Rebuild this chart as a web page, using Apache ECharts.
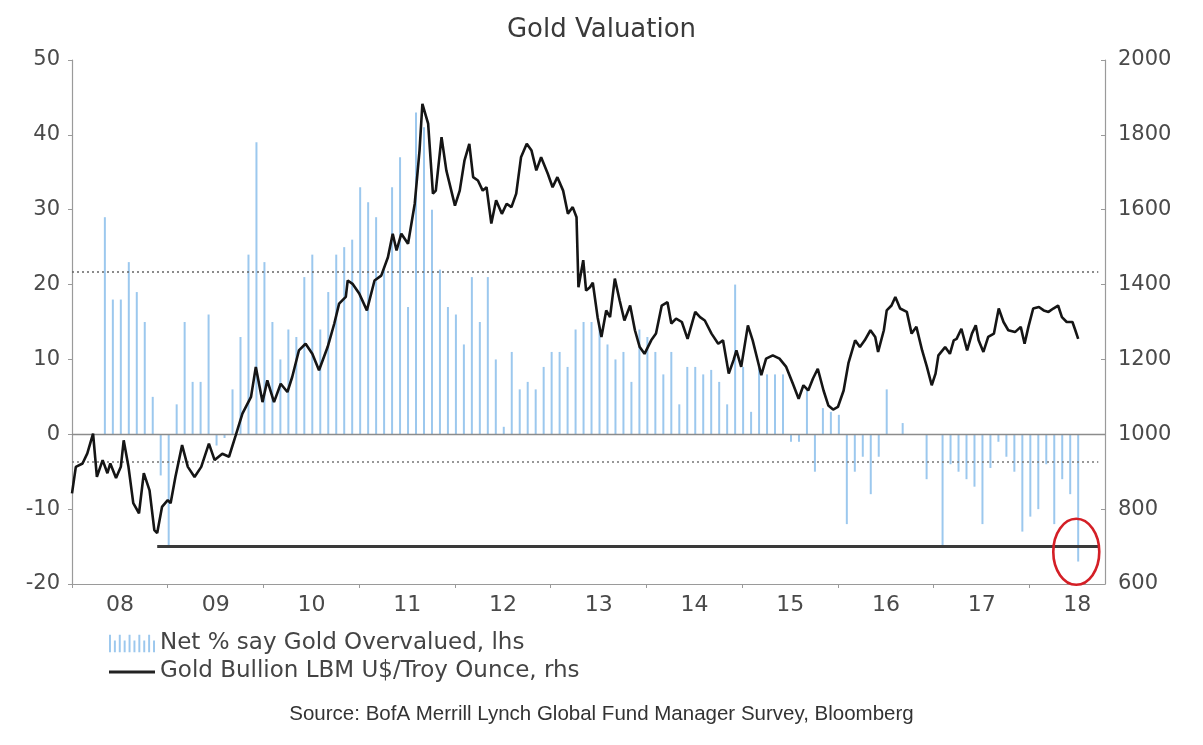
<!DOCTYPE html>
<html>
<head>
<meta charset="utf-8">
<style>
  html, body { margin: 0; padding: 0; background: #ffffff; }
  #chart { width: 1203px; height: 745px; }
</style>
<script src="https://cdn.jsdelivr.net/npm/echarts@6/dist/echarts.min.js"></script>
</head>
<body>
<div id="chart"></div>
<script>
// ---------------- DATA ----------------
const chartTitle = 'Gold Valuation';
const sourceNote = 'Source: BofA Merrill Lynch Global Fund Manager Survey, Bloomberg';
const barName = 'Net % say Gold Overvalued, lhs';
const lineName = 'Gold Bullion LBM U$/Troy Ounce, rhs';

// Monthly survey readings, starting May 2008
const surveyStartYear = 2008;
const surveyStartMonth = 5;
const netOvervalued = [
  29, 18, 18, 23, 19, 15, 5, -5.5,                       // 2008 (May-Dec)
  -15, 4, 15, 7, 7, 16, -1.5, -0.5, 6, 13, 24, 39,       // 2009
  23, 15, 10, 14, 13, 21, 24, 14, 19, 24, 25, 26,        // 2010
  33, 31, 29, 22, 33, 37, 17, 43, 41, 30, 22, 17,        // 2011
  16, 12, 21, 15, 21, 10, 1, 11, 6, 7, 6, 9,             // 2012
  11, 11, 9, 14, 15, 15, 14.5, 12, 10, 11, 7, 14,        // 2013
  13, 11, 8, 11, 4, 9, 9, 8, 8.6, 7, 4, 20,              // 2014
  9, 3, 9, 8, 8, 8, -1, -1, 6, -5, 3.5, 3,               // 2015
  2.6, -12, -5, -3, -8, -3, 6, 0, 1.5, 0, 0, -6,         // 2016
  0, -15, -4, -5, -6, -7, -12, -4.5, -1, -3, -5, -13,    // 2017
  -11, -10, -4, -12, -6, -8, -17                         // 2018 (Jan-Jul)
];

// Gold price (decimal year, US$/oz)
const goldTime = [
  2008.00,2008.04,2008.11,2008.16,2008.22,2008.26,2008.32,2008.37,2008.40,2008.46,2008.51,2008.54,2008.59,2008.64,2008.70,2008.75,2008.81,2008.86,2008.89,2008.94,
  2009.00,2009.03,2009.08,2009.15,2009.21,2009.28,2009.35,2009.43,2009.49,2009.57,2009.64,2009.71,2009.78,2009.87,2009.92,2009.99,
  2010.04,2010.11,2010.18,2010.25,2010.30,2010.37,2010.44,2010.51,2010.58,2010.67,2010.74,2010.79,2010.86,2010.88,2010.93,
  2011.00,2011.08,2011.16,2011.23,2011.30,2011.35,2011.39,2011.44,2011.51,2011.58,2011.63,2011.66,2011.72,2011.77,2011.80,2011.86,2011.91,
  2012.00,2012.05,2012.10,2012.15,2012.19,2012.24,2012.29,2012.33,2012.38,2012.43,2012.49,2012.54,2012.59,2012.64,2012.69,2012.75,2012.80,2012.85,2012.90,2012.97,
  2013.02,2013.07,2013.13,2013.18,2013.23,2013.27,2013.29,2013.34,2013.37,2013.41,2013.44,2013.49,2013.53,2013.58,2013.62,2013.67,2013.72,2013.77,2013.83,2013.88,2013.93,2013.98,
  2014.05,2014.10,2014.16,2014.22,2014.26,2014.31,2014.37,2014.43,2014.51,2014.56,2014.61,2014.68,2014.75,2014.80,2014.86,2014.91,2014.94,2014.99,
  2015.06,2015.11,2015.17,2015.20,2015.25,2015.32,2015.39,2015.46,2015.53,2015.59,2015.64,2015.69,2015.74,2015.79,2015.85,2015.90,2015.95,
  2016.00,2016.06,2016.11,2016.18,2016.23,2016.28,2016.34,2016.39,2016.42,2016.48,2016.51,2016.56,2016.60,2016.65,2016.72,2016.77,2016.82,2016.88,2016.93,2016.98,
  2017.02,2017.05,2017.12,2017.17,2017.21,2017.24,2017.29,2017.35,2017.40,2017.44,2017.47,2017.52,2017.57,2017.63,2017.68,2017.73,2017.78,2017.85,2017.91,2017.95,2017.99,
  2018.04,2018.10,2018.15,2018.20,2018.25,2018.30,2018.34,2018.39,2018.45,2018.48,2018.51
];
const goldPrice = [
  842,913,922,949,1002,886,931,896,922,883,913,984,913,816,789,896,850,744,736,806,
  824,816,886,971,913,886,913,975,931,948,940,997,1055,1100,1180,1086,
  1144,1086,1135,1113,1153,1224,1242,1215,1171,1233,1296,1349,1367,1411,1402,
  1376,1331,1411,1424,1473,1536,1491,1536,1509,1616,1758,1883,1830,1643,1651,1794,1705,
  1611,1651,1732,1776,1687,1678,1651,1660,1563,1625,1589,1616,1607,1643,1740,1776,1758,1705,1740,1696,
  1660,1687,1651,1589,1607,1580,1393,1465,1384,1393,1405,1313,1260,1331,1313,1416,1358,1304,1344,1278,1233,1215,
  1251,1269,1344,1353,1296,1309,1300,1255,1327,1313,1304,1269,1242,1251,1162,1198,1224,1180,
  1291,1251,1189,1158,1202,1211,1202,1180,1135,1095,1131,1117,1149,1175,1117,1077,1066,
  1073,1117,1190,1251,1233,1251,1278,1260,1220,1278,1331,1344,1367,1336,1327,1269,1287,1224,1180,1131,
  1162,1211,1233,1215,1251,1255,1282,1224,1269,1291,1251,1220,1260,1269,1336,1300,1278,1273,1287,1242,1287,
  1336,1340,1331,1327,1336,1344,1313,1300,1300,1278,1255
];

// Reference levels (lhs units)
const upperBand = 21.7;
const lowerBand = -3.7;
const recordLow = -15;
const recordLowFrom = 2008.89;

// Axis ranges / ticks
const xMin = 2008, xMax = 2018.79;
const leftMin = -20, leftMax = 50, leftStep = 10;
const rightMin = 600, rightMax = 2000, rightStep = 200;

// ---------------- BUILD ----------------
const barData = netOvervalued.map((v, k) => [
  surveyStartYear + (surveyStartMonth - 1 + k) / 12 + 0.01, v
]);
const lineData = goldTime.map((t, i) => [t, goldPrice[i]]);
const lastBarX = barData[barData.length - 1][0];
const bandEnd = 2018.72;

const FONT = "'DejaVu Sans', 'Noto Sans', sans-serif";
const labelColor = '#4a4a4a';
const axisGray = '#9a9a9a';

const chart = echarts.init(document.getElementById('chart'), null, { renderer: 'canvas' });

const option = {
  animation: false,
  backgroundColor: '#ffffff',
  title: [
    {
      text: chartTitle, left: 'center', top: 12,
      textStyle: { fontFamily: FONT, fontSize: 26, fontWeight: 'normal', color: '#3a3a3a' }
    },
    {
      text: sourceNote, left: 'center', top: 699,
      textStyle: { fontFamily: "'Liberation Sans Narrow', 'Arial Narrow', 'Liberation Sans', sans-serif",
                   fontSize: 20.5, fontWeight: 'normal', color: '#333' }
    }
  ],
  grid: { left: 72, right: 98, top: 60, bottom: 161, containLabel: false },
  legend: {
    orient: 'vertical', left: 104, top: 627, itemGap: 5,
    itemWidth: 46, itemHeight: 20,
    textStyle: { fontFamily: FONT, fontSize: 23, color: '#444', lineHeight: 23 },
    data: [
      { name: barName,
        icon: 'path://M0,2h2v18h-2zM5,8h2v12h-2zM10,2h2v18h-2zM15,8h2v12h-2zM20,2h2v18h-2zM25,8h2v12h-2zM30,2h2v18h-2zM35,8h2v12h-2zM40,2h2v18h-2zM45,8h2v12h-2z' },
      { name: lineName,
        icon: 'path://M0,0M0,9h46v3h-46zM46,20' }
    ]
  },
  xAxis: {
    type: 'value', min: xMin, max: xMax, interval: 1,
    axisLine: { show: true, onZero: false, lineStyle: { color: axisGray, width: 1.2 } },
    axisTick: { show: true, length: 4, lineStyle: { color: axisGray } },
    splitLine: { show: false },
    axisLabel: {
      margin: 10, fontFamily: FONT, fontSize: 22, color: labelColor,
      padding: [0, 0, 0, 96], showMaxLabel: false,
      formatter: v => (Math.abs(v - Math.round(v)) < 1e-6 && v < xMax - 0.5)
        ? String(Math.round(v) % 100).padStart(2, '0') : ''
    }
  },
  yAxis: [
    {
      type: 'value', min: leftMin, max: leftMax, interval: leftStep, position: 'left',
      axisLine: { show: true, lineStyle: { color: axisGray, width: 1.2 } },
      axisTick: { show: true, length: 4, lineStyle: { color: axisGray } },
      splitLine: { show: false },
      axisLabel: { margin: 12, fontFamily: FONT, fontSize: 21, color: labelColor }
    },
    {
      type: 'value', min: rightMin, max: rightMax, interval: rightStep, position: 'right',
      axisLine: { show: true, lineStyle: { color: axisGray, width: 1.2 } },
      axisTick: { show: true, inside: true, length: 4, lineStyle: { color: axisGray } },
      splitLine: { show: false },
      axisLabel: { margin: 13, fontFamily: FONT, fontSize: 21, color: labelColor,
                   formatter: v => String(v) }
    }
  ],
  series: [
    {
      name: barName, type: 'bar', xAxisIndex: 0, yAxisIndex: 0,
      data: barData, barWidth: 2,
      itemStyle: { color: '#9cc8ee' },
      z: 2,
      markLine: {
        silent: true, symbol: 'none', label: { show: false },
        animation: false,
        data: [
          { yAxis: 0, lineStyle: { color: '#8c8c8c', width: 1.4, type: 'solid' } },
          [ { coord: [xMin, upperBand], lineStyle: { color: '#666', width: 1.5, type: [2, 3] } },
            { coord: [bandEnd, upperBand] } ],
          [ { coord: [xMin, lowerBand], lineStyle: { color: '#777', width: 1.5, type: [2, 3] } },
            { coord: [bandEnd, lowerBand] } ],
          [ { coord: [recordLowFrom, recordLow], lineStyle: { color: '#3a3a3a', width: 3, type: 'solid' } },
            { coord: [bandEnd, recordLow] } ]
        ]
      }
    },
    {
      name: lineName, type: 'line', xAxisIndex: 0, yAxisIndex: 1,
      data: lineData, symbol: 'none', showSymbol: false,
      lineStyle: { color: '#151515', width: 2.6 },
      itemStyle: { color: '#222' },
      z: 5
    }
  ]
};
chart.setOption(option);

// Red circle highlighting the latest (record) reading
const c = chart.convertToPixel({ xAxisIndex: 0, yAxisIndex: 0 }, [lastBarX - 0.02, recordLow - 0.7]);
chart.setOption({
  graphic: [{
    type: 'ellipse', silent: true, z: 10,
    shape: { cx: c[0], cy: c[1], rx: 23, ry: 33 },
    style: { fill: 'none', stroke: '#d41f26', lineWidth: 2.6 }
  }]
});
</script>
</body>
</html>
